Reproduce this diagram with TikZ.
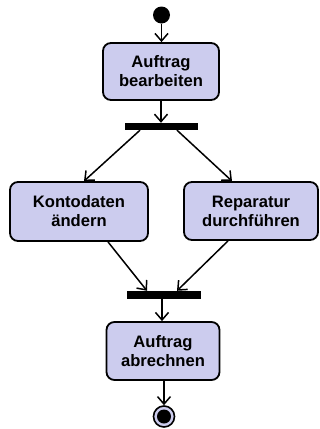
\documentclass[tikz,border=0pt]{standalone}
\usepackage{fontspec}
\setmainfont{Liberation Sans}
\usetikzlibrary{arrows.meta}
\definecolor{actfill}{RGB}{204,204,238}
\tikzset{
  action/.style={draw=black, line width=1.8pt, fill=actfill, rounded corners=8pt,
    align=center, inner sep=0pt, font=\fontsize{16.6}{19}\selectfont\bfseries},
  syncbar/.style={fill=black, inner sep=0pt},
  flow/.style={line width=1.5pt, -{Straight Barb[length=7.5pt,width=13pt,line width=1.5pt]}},
}
\begin{document}
\begin{tikzpicture}[x=1pt,y=-1pt]
\useasboundingbox (0,0) rectangle (320,429);
% initial node
\node[circle, fill=black, minimum size=17pt, inner sep=0pt] (start) at (161.5,15) {};
% actions
\node[action, minimum width=116pt, minimum height=57pt] (b1) at (161,71.5) {Auftrag\\bearbeiten};
\node[action, minimum width=138pt, minimum height=59pt] (b2) at (79,211.5) {Kontodaten\\ändern};
\node[action, minimum width=134pt, minimum height=58pt] (b3) at (251,211) {Reparatur\\durchführen};
\node[action, minimum width=113pt, minimum height=58pt] (b4) at (163,351) {Auftrag\\abrechnen};
% fork and join bars
\node[syncbar, minimum width=73pt, minimum height=7pt] (fork) at (161.5,126.5) {};
\node[syncbar, minimum width=74pt, minimum height=8pt] (join) at (164,295) {};
% final node
\node[circle, draw=black, line width=1.6pt, fill=actfill, minimum size=21pt, inner sep=0pt] (final) at (164,416.5) {};
\node[circle, fill=black, minimum size=14pt, inner sep=0pt] (finaldot) at (final.center) {};
% flows
\draw[flow] (start.south) -- (start.south |- b1.north);
\draw[flow] (b1.south) -- (b1.south |- fork.north);
\draw[flow] ([xshift=-21.5pt]fork.south) -- ([xshift=5pt]b2.north);
\draw[flow] ([xshift=15.5pt]fork.south) -- ([xshift=-19pt]b3.north);
\draw[flow] ([xshift=29pt]b2.south) -- ([xshift=-17pt]join.north);
\draw[flow] ([xshift=-23pt]b3.south) -- ([xshift=13pt]join.north);
\draw[flow] ([xshift=-2pt]join.south) -- ([xshift=-2pt]join.south |- b4.north);
\draw[flow] (final.north |- b4.south) -- (final.north);
\end{tikzpicture}
\end{document}
